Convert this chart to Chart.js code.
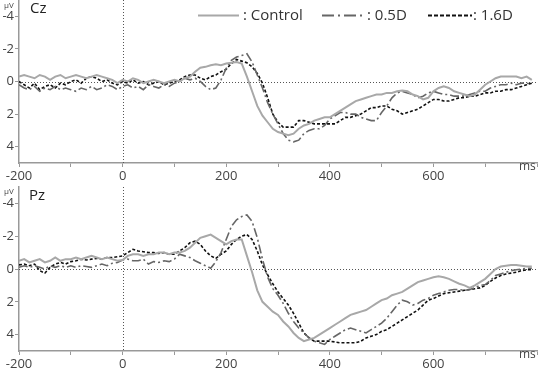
<!DOCTYPE html>
<html>
<head>
<meta charset="utf-8">
<script src="https://cdn.jsdelivr.net/npm/chart.js@4/dist/chart.umd.min.js"></script>
<style>
  body { margin: 0; background: #fff; }
  #wrap { position: relative; width: 543px; height: 377px; overflow: hidden; font-family: "Open Sans", sans-serif; color: #333; }
  canvas { position: absolute; left: 0; }
  .lbl { position: absolute; white-space: nowrap; line-height: 1; }
  .site { font-size: 15px; color: #222; }
  .unit { font-size: 8px; color: #444; }
  .ms { font-size: 12px; color: #444; }
  .leg { font-size: 15px; color: #333; }
</style>
</head>
<body>
<div id="wrap">
  <canvas id="cz" width="543" height="185" style="top:0"></canvas>
  <canvas id="pz" width="543" height="192" style="top:185px"></canvas>

  <div class="lbl unit" style="left:4px;top:1px">μV</div>
  <div class="lbl site" style="left:30px;top:0px">Cz</div>
  <div class="lbl ms" style="left:519px;top:160px">ms</div>

  <div class="lbl unit" style="left:4px;top:187px">μV</div>
  <div class="lbl site" style="left:29px;top:187px">Pz</div>
  <div class="lbl ms" style="left:519px;top:348px">ms</div>

  <svg style="position:absolute;left:0;top:0" width="543" height="30">
    <line x1="198" y1="15.5" x2="239" y2="15.5" stroke="#a8a8a8" stroke-width="2"/>
    <line x1="322" y1="15.5" x2="366" y2="15.5" stroke="#666" stroke-width="2" stroke-dasharray="12,4,2,4"/>
    <line x1="428" y1="15.5" x2="472" y2="15.5" stroke="#111" stroke-width="2" stroke-dasharray="4,2"/>
  </svg>
  <div class="lbl leg" style="left:243px;top:7px">: Control</div>
  <div class="lbl leg" style="left:367px;top:7px">: 0.5D</div>
  <div class="lbl leg" style="left:473px;top:7px">: 1.6D</div>
</div>
<script>
// time in ms
const times = [
  -200,-190,-180,-170,-160,-150,-140,-130,-120,-110,
  -100,-90,-80,-70,-60,-50,-40,-30,-20,-10,
  0,10,20,30,40,50,60,70,80,90,
  100,110,120,130,140,150,160,170,180,190,
  200,210,220,230,240,250,260,270,280,290,
  300,310,320,330,340,350,360,370,380,390,
  400,410,420,430,440,450,460,470,480,490,
  500,510,520,530,540,550,560,570,580,590,
  600,610,620,630,640,650,660,670,680,690,
  700,710,720,730,740,750,760,770,780,790
];

// Cz (µV)
const czControl = [
  -0.3,-0.4,-0.3,-0.2,-0.4,-0.3,-0.1,-0.3,-0.4,-0.2,
  -0.3,-0.4,-0.3,-0.2,-0.3,-0.4,-0.3,-0.2,-0.1,0.1,
  -0.1,0.0,-0.2,-0.1,0.1,0.0,-0.1,0.0,0.1,0.0,
  -0.1,0.0,-0.2,-0.3,-0.6,-0.85,-0.9,-1.0,-1.05,-1.0,
  -1.1,-1.15,-1.2,-1.1,-0.3,0.6,1.5,2.1,2.5,2.9,
  3.1,3.2,3.3,3.2,2.9,2.7,2.6,2.4,2.3,2.2,
  2.2,2.0,1.8,1.6,1.4,1.2,1.1,1.0,0.9,0.8,
  0.8,0.7,0.7,0.6,0.55,0.6,0.8,0.9,1.1,1.0,
  0.6,0.4,0.3,0.4,0.6,0.7,0.8,0.9,0.8,0.5,
  0.2,0.0,-0.2,-0.3,-0.3,-0.3,-0.3,-0.2,-0.3,-0.1
];
const cz05D = [
  0.2,0.4,0.5,0.3,0.6,0.4,0.5,0.3,0.5,0.4,
  0.5,0.6,0.4,0.5,0.3,0.5,0.4,0.2,0.3,0.5,
  0.3,0.2,0.4,0.3,0.5,0.2,0.3,0.4,0.2,0.3,
  0.1,0.0,-0.2,-0.1,-0.2,0.0,0.3,0.5,0.4,-0.1,
  -0.8,-1.3,-1.5,-1.6,-1.7,-1.2,-0.4,0.4,1.3,2.0,
  2.6,3.2,3.6,3.7,3.6,3.2,3.0,2.9,2.9,2.7,
  2.3,2.1,1.9,1.9,2.0,2.0,2.2,2.3,2.4,2.4,
  1.9,1.5,1.0,0.7,0.6,0.7,0.8,1.0,0.9,0.7,
  0.6,0.7,0.8,0.8,0.9,0.9,0.9,0.8,0.7,0.6,
  0.6,0.4,0.3,0.2,0.2,0.1,0.2,0.1,0.1,0.2
];
const cz16D = [
  0.0,0.2,0.4,0.1,0.5,0.3,0.2,0.4,0.1,0.2,
  0.0,-0.1,0.1,-0.2,-0.3,-0.2,0.0,-0.1,0.1,0.2,
  0.0,0.1,-0.1,0.1,0.0,0.2,0.1,0.0,0.2,0.1,
  0.0,-0.1,-0.3,-0.4,-0.4,-0.2,-0.1,-0.3,-0.4,-0.6,
  -0.75,-1.1,-1.35,-1.25,-1.15,-0.9,-0.5,0.1,1.0,2.0,
  2.5,2.8,2.8,2.8,2.4,2.4,2.5,2.6,2.6,2.6,
  2.6,2.6,2.4,2.2,2.2,2.1,2.0,1.8,1.6,1.6,
  1.5,1.5,1.7,1.8,2.0,1.9,1.8,1.7,1.5,1.3,
  1.1,1.1,1.2,1.2,1.1,1.0,1.0,0.9,0.9,0.8,
  0.7,0.7,0.6,0.6,0.5,0.5,0.4,0.3,0.2,0.1
];

// Pz (µV)
const pzControl = [
  -0.5,-0.6,-0.4,-0.5,-0.6,-0.4,-0.5,-0.7,-0.5,-0.6,
  -0.6,-0.7,-0.6,-0.7,-0.8,-0.7,-0.6,-0.7,-0.6,-0.5,
  -0.55,-0.8,-0.9,-0.9,-0.8,-0.9,-0.9,-1.0,-1.0,-0.9,
  -1.0,-1.0,-1.1,-1.3,-1.6,-1.9,-2.0,-2.1,-1.9,-1.7,
  -1.5,-1.7,-1.8,-1.8,-0.8,0.2,1.3,2.0,2.3,2.6,
  2.8,3.2,3.5,3.9,4.2,4.4,4.3,4.2,4.0,3.8,
  3.6,3.4,3.2,3.0,2.8,2.7,2.6,2.5,2.3,2.1,
  1.9,1.8,1.6,1.5,1.4,1.2,1.0,0.8,0.7,0.6,
  0.5,0.45,0.5,0.6,0.75,0.9,1.0,1.15,1.0,0.8,
  0.6,0.3,0.0,-0.15,-0.2,-0.25,-0.25,-0.2,-0.15,-0.15
];
const pz05D = [
  -0.1,-0.2,-0.1,-0.2,-0.1,0.0,-0.2,-0.1,-0.2,-0.1,
  -0.2,-0.1,-0.2,-0.15,-0.1,-0.2,-0.3,-0.2,-0.35,-0.4,
  -0.55,-0.6,-0.5,-0.5,-0.6,-0.3,-0.45,-0.4,-0.5,-0.45,
  -0.6,-0.9,-0.8,-0.7,-0.5,-0.35,-0.2,-0.05,-0.45,-1.0,
  -1.8,-2.6,-3.0,-3.2,-3.3,-2.9,-1.9,-0.6,0.5,1.2,
  1.6,2.1,2.7,3.2,3.6,3.9,4.2,4.4,4.5,4.6,
  4.3,4.1,3.9,3.7,3.6,3.7,3.8,3.9,3.7,3.5,
  3.3,3.0,2.6,2.2,1.9,2.0,2.2,2.1,1.9,1.8,
  1.6,1.5,1.4,1.3,1.25,1.25,1.3,1.25,1.15,1.0,
  0.95,0.7,0.4,0.3,0.2,0.1,0.05,0.0,-0.05,-0.05
];
const pz16D = [
  -0.25,-0.3,-0.2,-0.3,0.1,0.25,-0.1,-0.3,-0.4,-0.3,
  -0.45,-0.5,-0.6,-0.55,-0.6,-0.65,-0.6,-0.7,-0.7,-0.75,
  -0.8,-1.0,-1.2,-1.1,-1.05,-1.0,-1.0,-0.95,-1.0,-0.9,
  -0.9,-1.1,-1.3,-1.6,-1.7,-1.5,-1.1,-0.8,-0.65,-0.9,
  -1.1,-1.5,-1.8,-2.0,-2.1,-1.8,-1.1,-0.25,0.35,0.9,
  1.4,1.8,2.2,2.7,3.3,3.9,4.2,4.4,4.4,4.4,
  4.4,4.45,4.5,4.5,4.5,4.5,4.4,4.2,4.1,4.0,
  3.8,3.7,3.5,3.3,3.1,2.9,2.7,2.5,2.2,1.9,
  1.8,1.65,1.5,1.45,1.4,1.35,1.3,1.25,1.2,1.15,
  1.0,0.75,0.55,0.4,0.3,0.25,0.2,0.1,0.05,0.05
];

const xTicks = [-200,-100,0,100,200,300,400,500,600,700,800];
const yTicks = [-4,-2,0,2,4];

// dotted lines at 0 ms and 0 µV
const zeroLines = {
  id: 'zeroLines',
  beforeDatasetsDraw(chart) {
    const ctx = chart.ctx, a = chart.chartArea;
    const px = Math.round(chart.scales.x.getPixelForValue(0)) + 0.5;
    const py = Math.round(chart.scales.y.getPixelForValue(0)) + 0.5;
    ctx.save();
    ctx.strokeStyle = '#555';
    ctx.lineWidth = 1;
    ctx.setLineDash([1, 2]);
    ctx.beginPath();
    ctx.moveTo(px, a.top);
    ctx.lineTo(px, a.bottom);
    ctx.moveTo(a.left, py);
    ctx.lineTo(a.right, py);
    ctx.stroke();
    ctx.restore();
  }
};

function pts(vals) {
  return times.map((t, i) => ({x: t, y: vals[i]}));
}

function makeChart(id, control, d05, d16, xHeight, padTop) {
  let ctx = document.getElementById(id).getContext('2d');
  return new Chart(ctx, {
    type: 'line',
    data: {
      datasets: [
        { label: 'Control', data: pts(control), borderColor: '#a8a8a8', borderWidth: 2 },
        { label: '0.5D', data: pts(d05), borderColor: '#666', borderWidth: 1.6, borderDash: [9, 3, 2, 3] },
        { label: '1.6D', data: pts(d16), borderColor: '#111', borderWidth: 1.6, borderDash: [3, 2] }
      ]
    },
    options: {
      responsive: false,
      animation: false,
      devicePixelRatio: 1,
      elements: { point: { radius: 0 }, line: { tension: 0 } },
      layout: { padding: { left: 0, right: 6, top: padTop, bottom: 0 } },
      plugins: { legend: { display: false }, tooltip: { enabled: false } },
      scales: {
        x: {
          type: 'linear',
          min: -200,
          max: 800,
          afterBuildTicks: s => { s.ticks = xTicks.map(v => ({value: v})); },
          afterFit: s => { s.height = xHeight; s.paddingLeft = 0; s.paddingRight = 0; },
          ticks: {
            autoSkip: false,
            maxRotation: 0,
            padding: 1,
            color: '#444',
            font: { family: 'Open Sans', size: 13 },
            callback: v => (v % 200 === 0 && v < 800) ? String(v) : ''
          },
          grid: { drawOnChartArea: false, tickLength: 4, tickColor: '#999', tickWidth: 1 },
          border: { color: '#999', width: 1.5 }
        },
        y: {
          min: -5,
          max: 5,
          reverse: true,
          afterBuildTicks: s => { s.ticks = yTicks.map(v => ({value: v})); },
          afterFit: s => { s.width = 19; s.paddingTop = 0; s.paddingBottom = 0; },
          ticks: {
            padding: 1,
            color: '#444',
            font: { family: 'Open Sans', size: 13 },
            callback: v => String(v)
          },
          grid: { drawOnChartArea: false, tickLength: 4, tickColor: '#999', tickWidth: 1 },
          border: { color: '#999', width: 1.5 }
        }
      }
    },
    plugins: [zeroLines]
  });
}

makeChart('cz', czControl, cz05D, cz16D, 22, 0);
makeChart('pz', pzControl, pz05D, pz16D, 26, 2);
</script>
</body>
</html>
